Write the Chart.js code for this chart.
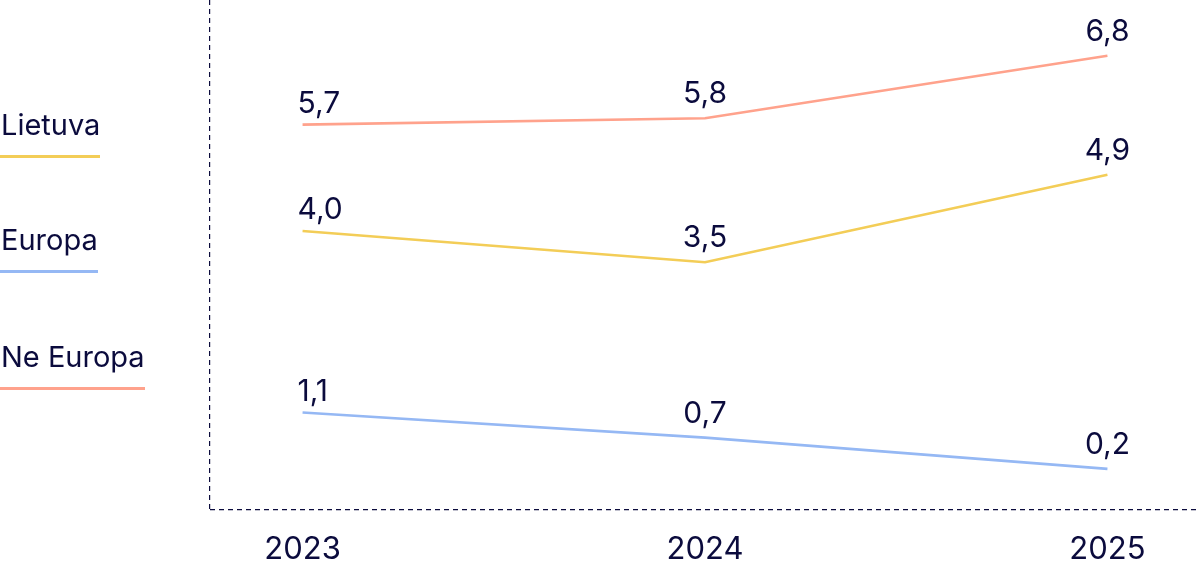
<!DOCTYPE html>
<html lang="lt">
<head>
<meta charset="utf-8">
<script src="https://cdn.jsdelivr.net/npm/chart.js@4"></script>
<style>
  html,body{margin:0;padding:0;background:#fff;}
  body{width:1200px;height:568px;position:relative;overflow:hidden;font-family:Inter,"Noto Sans",sans-serif;color:#0b0b3d;}
  #wrap{position:absolute;left:0;top:0;width:1200px;height:568px;}
  #legend{position:absolute;left:0;top:0;}
  .item{position:absolute;left:0;font-size:29px;line-height:29px;padding-bottom:16px;border-bottom:3px solid;white-space:nowrap;padding-left:1px;}
</style>
</head>
<body>
<div id="wrap"><canvas id="lineChart" width="1200" height="568"></canvas></div>
<div id="legend"></div>
<script>
const years = [2023, 2024, 2025];
const neEuropa = [5.7, 5.8, 6.8];
const lietuva = [4.0, 3.5, 4.9];
const europa = [1.1, 0.7, 0.2];

const legendOrder = ['Lietuva','Europa','Ne Europa'];
const colors = {'Lietuva':'#f3cd57','Europa':'#95b8f4','Ne Europa':'#ffa28c'};
const seriesData = {'Lietuva':lietuva,'Europa':europa,'Ne Europa':neEuropa};
const ink = '#0b0b3d';
const xMin = 2022.77, xMax = 2025.23;
const yMin = -0.45, yMax = 7.69;

function fmt(v){ return v.toFixed(1).replace('.', ','); }

// legend: text with a coloured line underneath
const legendTops = [110, 225, 342];
document.getElementById('legend').innerHTML = legendOrder.map((name,i)=>
  `<div class="item" style="top:${legendTops[i]}px;border-color:${colors[name]}">${name}</div>`).join('');

const valueLabels = {
  id:'valueLabels',
  afterDatasetsDraw(chart){
    const ctx = chart.ctx;
    ctx.save();
    ctx.font = '400 30px Inter, "Noto Sans", sans-serif';
    ctx.fillStyle = ink;
    ctx.textBaseline = 'alphabetic';
    chart.data.datasets.forEach((ds,di)=>{
      chart.getDatasetMeta(di).data.forEach((pt,i)=>{
        const v = ds.data[i].y;
        if(i===0){ ctx.textAlign='left'; ctx.fillText(fmt(v), pt.x-5, pt.y-12); }
        else { ctx.textAlign='center'; ctx.fillText(fmt(v), pt.x, pt.y-15); }
      });
    });
    ctx.restore();
  }
};

const datasets = ['Ne Europa','Lietuva','Europa'].map(name=>({
  label:name,
  data: years.map((y,i)=>({x:y, y:seriesData[name][i]})),
  borderColor: colors[name],
  borderWidth: 2.6,
  pointRadius: 0,
  tension: 0,
  fill: false
}));

// the dashed axes are the grid lines at the scale minimums
const axisLine = (minVal)=> c => (c.tick && c.tick.value===minVal) ? ink : 'rgba(0,0,0,0)';

new Chart(document.getElementById('lineChart'), {
  type:'line',
  data:{datasets},
  plugins:[valueLabels],
  options:{
    responsive:false,
    animation:false,
    layout:{padding:{left:210, top:0, right:0, bottom:-22}},
    plugins:{legend:{display:false}, tooltip:{enabled:false}},
    scales:{
      x:{
        type:'linear', min:xMin, max:xMax,
        afterBuildTicks(scale){ scale.ticks = [xMin, ...years].map(v=>({value:v})); },
        grid:{display:true, drawTicks:false, drawOnChartArea:true, color:axisLine(xMin), lineWidth:1.2},
        border:{display:false, dash:[5,4]},
        ticks:{color:ink, padding:21.6, font:{family:'Inter', size:31}, callback:v=>years.includes(v)?String(v):''}
      },
      y:{
        min:yMin, max:yMax,
        afterBuildTicks(scale){ scale.ticks = [{value:yMin}]; },
        grid:{display:true, drawTicks:false, color:axisLine(yMin), lineWidth:1.2},
        border:{display:false, dash:[5,4]},
        ticks:{display:false}
      }
    }
  }
});
</script>
</body>
</html>
